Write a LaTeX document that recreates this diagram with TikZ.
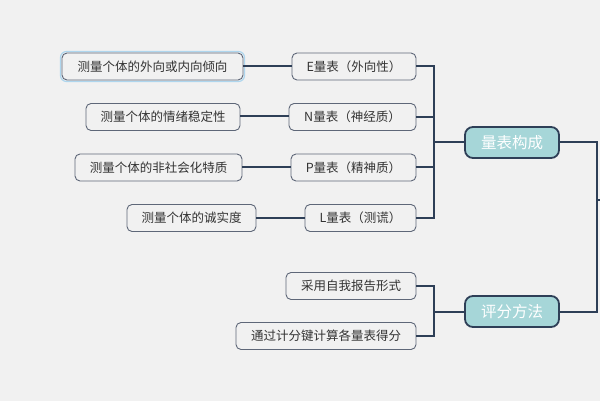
\documentclass[tikz,border=0pt]{standalone}
\usepackage{fontspec}
\setmainfont{Noto Sans CJK SC}
\usetikzlibrary{calc}
\definecolor{bg}{HTML}{F1F1F1}
\definecolor{leafborder}{HTML}{5E6778}
\definecolor{linec}{HTML}{2E3F57}
\definecolor{txt}{HTML}{333333}
\definecolor{mainfill}{HTML}{A6D6D8}
\definecolor{glow}{HTML}{AED6EE}
\tikzset{
  leaf/.style={draw=leafborder, line width=0.9pt, fill=bg, rounded corners=5pt,
    minimum height=27pt, inner sep=0pt, text=txt, font=\fontsize{12.5}{14}\selectfont},
  mainbox/.style={draw=linec, line width=1.8pt, fill=mainfill, rounded corners=8pt,
    minimum width=94pt, minimum height=31pt, inner sep=0pt, text=white,
    font=\fontsize{15.5}{18}\selectfont},
  conn/.style={draw=linec, line width=2pt}
}
\begin{document}
\begin{tikzpicture}[x=1pt,y=-1pt]
\useasboundingbox[fill=bg] (0,0) rectangle (600,401);
% glow for selected node
\draw[glow, line width=1.2pt, rounded corners=6pt] (60.5,51.5) rectangle (244.5,81.5);
\node[leaf, minimum width=181pt] (a1) at (152.5,66.5) {测量个体的外向或内向倾向};
\node[leaf, minimum width=124pt] (b1) at (354,66.5) {E量表（外向性）};
\node[leaf, minimum width=154pt] (a2) at (163,117) {测量个体的情绪稳定性};
\node[leaf, minimum width=127pt] (b2) at (352.5,117) {N量表（神经质）};
\node[leaf, minimum width=167pt] (a3) at (158.5,167.5) {测量个体的非社会化特质};
\node[leaf, minimum width=125pt] (b3) at (353.5,167.5) {P量表（精神质）};
\node[leaf, minimum width=129pt] (a4) at (191.5,218) {测量个体的诚实度};
\node[leaf, minimum width=111pt] (b4) at (360.5,218) {L量表（测谎）};
\node[mainbox] (c1) at (512,142.5) {量表构成};
\node[leaf, minimum width=130pt] (d1) at (351,286) {采用自我报告形式};
\node[leaf, minimum width=180pt] (d2) at (326,336) {通过计分键计算各量表得分};
\node[mainbox] (c2) at (512,311.5) {评分方法};
\coordinate (root) at (612,200);
% connectors
\foreach \a/\b in {a1/b1,a2/b2,a3/b3,a4/b4}{
  \draw[conn] ([yshift=0.5pt]\a.east) -- ([yshift=0.5pt]\b.west);
}
\foreach \b in {b1,b2,b3,b4}{
  \draw[conn] (c1.west) -- ++(-30,0) |- (\b.east);
}
\foreach \d in {d1,d2}{
  \draw[conn] (c2.west) -- ++(-30,0) |- (\d.east);
}
\draw[conn] (root) -- ++(-15,0) |- (c1.east);
\draw[conn] (root) -- ++(-15,0) |- (c2.east);
\end{tikzpicture}
\end{document}
